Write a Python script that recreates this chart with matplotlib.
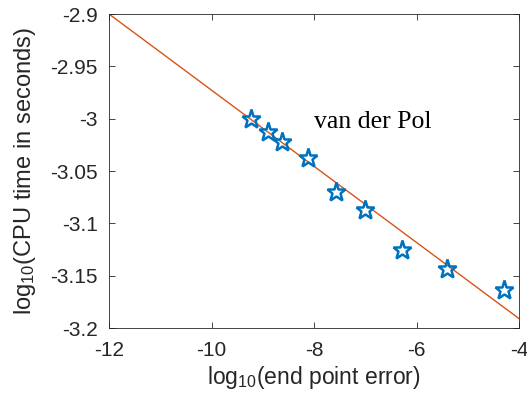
import matplotlib
matplotlib.use("Agg")
import matplotlib.pyplot as plt

# measured points
err = [-9.23, -8.89, -8.62, -8.12, -7.58, -7.00, -6.29, -5.40, -4.29]
cpu = [-3.000, -3.013, -3.022, -3.038, -3.070, -3.087, -3.125, -3.144, -3.164]

# fitted line endpoints
fit_x = [-12, -4]
fit_y = [-2.9, -3.191]

plt.rcParams["font.family"] = ["Liberation Sans", "DejaVu Sans"]
plt.rcParams["mathtext.fontset"] = "custom"
plt.rcParams["mathtext.rm"] = "Liberation Sans"
plt.rcParams["mathtext.it"] = "Liberation Sans:italic"
gray = "#262626"

fig = plt.figure(figsize=(5.27, 3.96), dpi=100)
ax = fig.add_axes([109 / 527, 1 - 328 / 396, 410 / 527, 314 / 396])

ax.plot(fit_x, fit_y, color="#D95319", lw=1.0, zorder=2)
ax.plot(err, cpu, ls="none", marker="*", ms=14, mfc="none",
        mec="#0072BD", mew=1.8, zorder=3)

ax.text(-8.0, -3.003, "van der Pol", family="Liberation Serif",
        fontsize=18.5, va="center", ha="left", color="black")

ax.set_xlim(-12, -4)
ax.set_ylim(-3.2, -2.9)
ax.set_xticks([-12, -10, -8, -6, -4])
ax.set_yticks([-3.2, -3.15, -3.1, -3.05, -3.0, -2.95, -2.9])
ax.set_xticklabels(["-12", "-10", "-8", "-6", "-4"])
ax.set_yticklabels(["-3.2", "-3.15", "-3.1", "-3.05", "-3", "-2.95", "-2.9"])
ax.tick_params(direction="in", top=True, right=True, length=4, width=0.6,
               labelsize=15, colors=gray)
ax.tick_params(axis="y", pad=8)
ax.tick_params(axis="x", pad=9)
for s in ax.spines.values():
    s.set_color(gray)
    s.set_linewidth(0.6)

ax.set_xlabel(r"log$_{\mathrm{10}}$(end point error)", fontsize=16.5, color=gray, labelpad=3)
ax.set_ylabel(r"log$_{\mathrm{10}}$(CPU time in seconds)", fontsize=17, color=gray, labelpad=9)

fig.savefig("out.png", dpi=100)
